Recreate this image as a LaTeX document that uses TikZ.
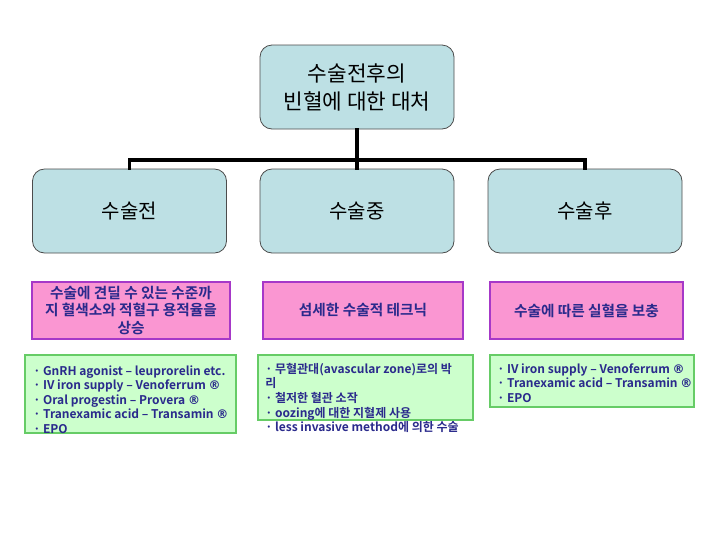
\documentclass[tikz,border=0pt]{standalone}
\usepackage{fontspec}
\setmainfont{Noto Sans CJK KR}
\newfontfamily\krb{Noto Sans CJK KR Bold}
\newfontfamily\dvs{DejaVu Sans Bold}
\newcommand\regmark{{\dvs ®}}
\definecolor{boxblue}{HTML}{BDE0E4}
\definecolor{pinkfill}{HTML}{FA96D2}
\definecolor{pinkline}{HTML}{A638C8}
\definecolor{greenfill}{HTML}{CCFFCC}
\definecolor{greenline}{HTML}{66CC66}
\definecolor{navy}{HTML}{2A2A8C}
\begin{document}
\begin{tikzpicture}[x=0.75pt,y=-0.75pt,
  bluebox/.style={draw=black!70,line width=0.6pt,fill=boxblue,rounded corners=9pt,
    minimum width=145.5pt,minimum height=63pt,inner sep=0pt,align=center,
    font=\fontsize{15}{21}\selectfont},
  pinkbox/.style={draw=pinkline,line width=0.8pt,fill=pinkfill,inner sep=0pt,
    minimum height=42.75pt,align=center,text=navy,
    font=\krb\fontsize{11}{13.2}\selectfont},
  greenbox/.style={draw=greenline,line width=0.8pt,fill=greenfill,inner sep=0pt},
  greentext/.style={anchor=north west,inner sep=0pt,align=left,text=navy,
    font=\krb\fontsize{9}{10.9}\selectfont},
  conn/.style={line width=2.3pt,line cap=rect}]
\useasboundingbox (0,0) rectangle (720,540);
\fill[white] (0,0) rectangle (720,540);
% top and level boxes
\node[bluebox,font=\fontsize{16}{21}\selectfont] (top) at (357,87) {수술전후의\\빈혈에 대한 대처};
\node[bluebox] (pre) at (129.5,211) {수술전};
\node[bluebox] (mid) at (357,211) {수술중};
\node[bluebox] (post) at (585,211) {수술후};
\coordinate (j) at (357,160);
\draw[conn] (top.south) -- (j);
\draw[conn] (pre.north) |- (j) -| (post.north);
\draw[conn] (j) -- (mid.north);
% pink boxes
\node[pinkbox,minimum width=148.5pt] (p1) at (131,310.5) {수술에 견딜 수 있는 수준까\\지 혈색소와 적혈구 용적율을\\상승};
\node[pinkbox,minimum width=150pt] (p2) at (363,310.5) {섬세한 수술적 테크닉};
\node[pinkbox,minimum width=144.75pt] (p3) at (586.5,310.5) {수술에 따른 실혈을 보충};
% green boxes
\node[greenbox,minimum width=158.25pt,minimum height=58.5pt] (g1) at (130.5,394) {};
\node[greenbox,minimum width=161.25pt,minimum height=48.75pt] (g2) at (365.5,387.5) {};
\node[greenbox,minimum width=153pt,minimum height=39pt] (g3) at (592,381) {};
\node[greentext] (t1) at (33,365) {· GnRH agonist – leuprorelin etc.\\· IV iron supply – Venoferrum \regmark\\· Oral progestin – Provera \regmark\\· Tranexamic acid – Transamin \regmark\\· EPO};
\node[greentext] (t2) at (265,363) {· 무혈관대(avascular zone)로의 박\\리\\· 철저한 혈관 소작\\· oozing에 대한 지혈제 사용\\· less invasive method에 의한 수술};
\node[greentext] (t3) at (497,363) {· IV iron supply – Venoferrum \regmark\\· Tranexamic acid – Transamin \regmark\\· EPO};
\end{tikzpicture}
\end{document}
